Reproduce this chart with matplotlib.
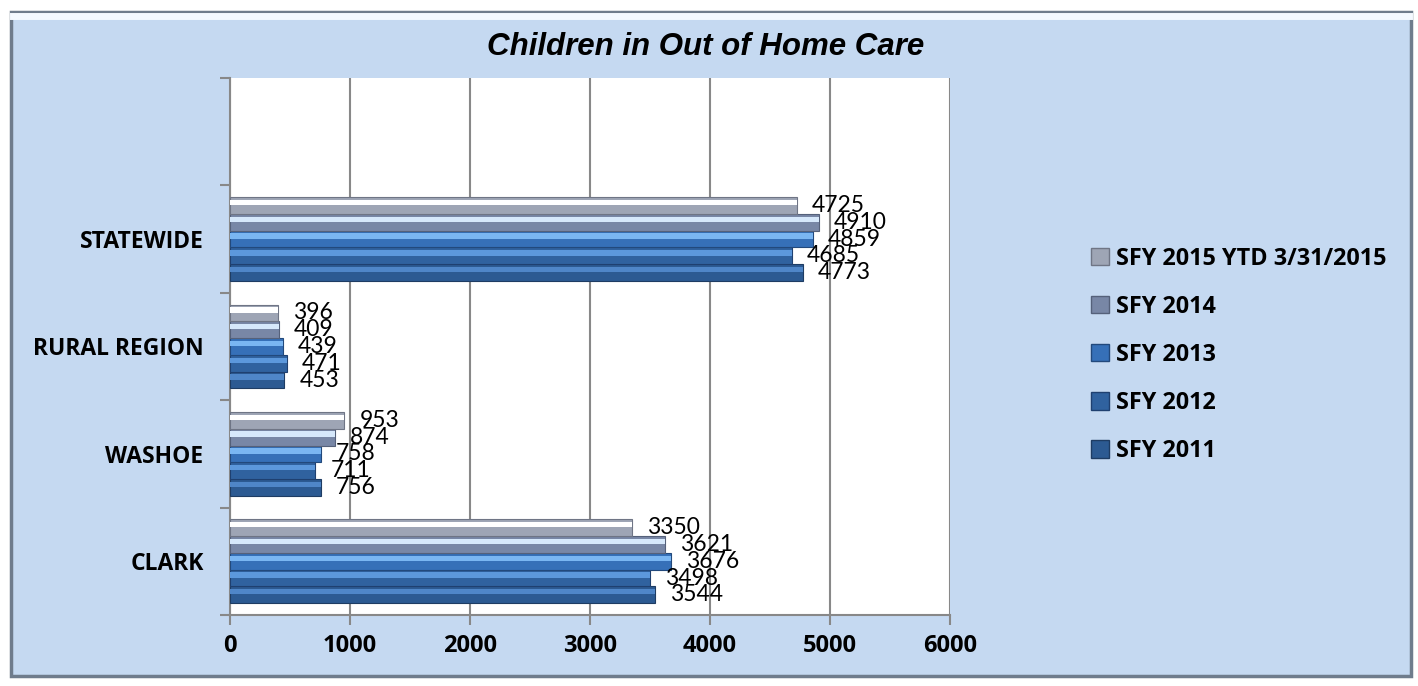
import matplotlib.pyplot as plt
from matplotlib.patches import Rectangle, Patch
import numpy as np

# categories bottom -> top (top slot is empty in the original chart)
regions = ["CLARK", "WASHOE", "RURAL REGION", "STATEWIDE", ""]
series_names = ["SFY 2011", "SFY 2012", "SFY 2013", "SFY 2014", "SFY 2015 YTD 3/31/2015"]

sfy2011 = [3544, 756, 453, 4773]
sfy2012 = [3498, 711, 471, 4685]
sfy2013 = [3676, 758, 439, 4859]
sfy2014 = [3621, 874, 409, 4910]
sfy2015 = [3350, 953, 396, 4725]
all_series = [sfy2011, sfy2012, sfy2013, sfy2014, sfy2015]

# base colour, highlight colour, edge colour
styles = [
    ("#2c5a92", "#4f86c8", "#1e3c63"),
    ("#30629f", "#5c98dc", "#1f4070"),
    ("#3670b8", "#7ab6f2", "#22497c"),
    ("#7887a6", "#d6e8fb", "#55617a"),
    ("#9ea5b5", "#ffffff", "#6f7585"),
]

bg = "#c5d9f1"
bold_font = "Open Sans"

fig = plt.figure(figsize=(14.18, 6.86), dpi=100, facecolor="white")

# outer frame
frame = Rectangle((11 / 1418, 10 / 686), 1400 / 1418, 664 / 686, transform=fig.transFigure,
                  facecolor=bg, edgecolor="#6f7c8c", linewidth=2.5, zorder=0)
fig.patches.append(frame)
fig.add_artist(plt.Line2D([13 / 1418, 1409 / 1418], [670 / 686, 670 / 686], transform=fig.transFigure,
                          color="#f4f9ff", linewidth=5, zorder=1))

ax = fig.add_axes([230 / 1418, 1 - 615 / 686, 720 / 1418, 537 / 686])
ax.set_zorder(2)
ax.set_facecolor("white")

y = np.arange(len(sfy2011))
bar_h = 0.156
for i, vals in enumerate(all_series):
    base, hi, edge = styles[i]
    pos = y + (i - 2) * bar_h
    ax.barh(pos, vals, height=bar_h, color=base, edgecolor=edge, linewidth=0.8, zorder=3)
    ax.barh(pos + bar_h * 0.18, vals, height=bar_h * 0.32, color=hi, linewidth=0, zorder=4)
    for p, v in zip(pos, vals):
        ax.text(v + 125, p, str(v), va="center", ha="left", fontsize=16.5,
                family="Lato", color="black", zorder=5)

ax.set_xlim(0, 6000)
ax.set_ylim(-0.5, 4.5)
ax.set_xticks(range(0, 6001, 1000))
ax.set_xticklabels([str(t) for t in range(0, 6001, 1000)], fontsize=17, fontweight="bold", family=bold_font)
ax.set_yticks(range(len(regions)))
ax.set_yticklabels(regions, fontsize=16.5, fontweight="bold", family=bold_font)
ax.set_yticks(np.arange(-0.5, 5, 1), minor=True)
ax.tick_params(axis="y", which="major", length=0, pad=19)
ax.tick_params(axis="y", which="minor", length=7, width=1.5, color="#888888")
ax.tick_params(axis="x", length=7, width=1.5, color="#888888", pad=7)

ax.grid(axis="x", color="#888888", linewidth=1.5, zorder=1)
for s in ["top", "right"]:
    ax.spines[s].set_visible(False)
for s in ["left", "bottom"]:
    ax.spines[s].set_color("#888888")
    ax.spines[s].set_linewidth(1.5)

fig.text(706 / 1418, 1 - 47 / 686, "Children in Out of Home Care", ha="center", va="center",
         fontsize=22.5, fontweight="bold", fontstyle="italic",
         family=["Liberation Sans Narrow", "Liberation Sans"])

handles = [Patch(facecolor=styles[i][0], edgecolor=styles[i][2]) for i in range(5)][::-1]
fig.legend(handles, series_names[::-1], loc="upper left", bbox_to_anchor=(1070 / 1418, 1 - 226 / 686),
           frameon=False, prop={"family": bold_font, "weight": "bold", "size": 16.8},
           labelspacing=1.03, handlelength=0.75, handleheight=0.75, handletextpad=0.3)

fig.savefig("out.png", dpi=100, facecolor="white")
